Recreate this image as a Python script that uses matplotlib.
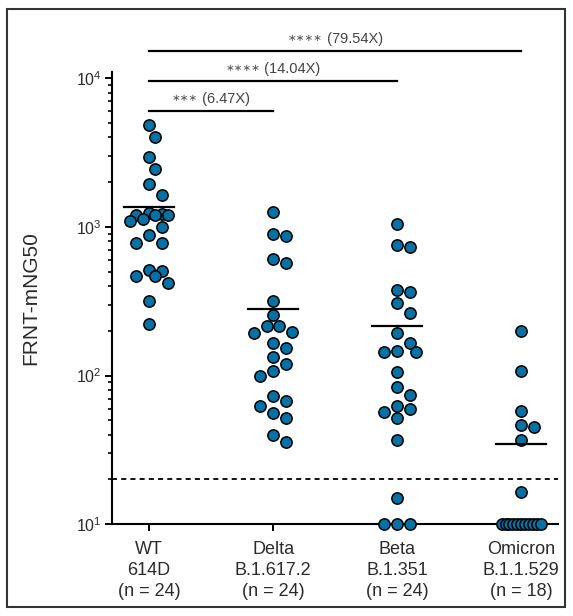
import numpy as np
import matplotlib
matplotlib.use('Agg')
import matplotlib.pyplot as plt
from matplotlib.ticker import LogLocator, NullFormatter
from matplotlib.patches import Rectangle
from matplotlib.transforms import offset_copy

plt.rcParams['font.family'] = ['Liberation Sans', 'DejaVu Sans']
plt.rcParams['mathtext.fontset'] = 'custom'
plt.rcParams['mathtext.rm'] = 'Liberation Sans'
plt.rcParams['mathtext.it'] = 'Liberation Sans:italic'

groups = ['WT\n614D\n(n = 24)', 'Delta\nB.1.617.2\n(n = 24)',
          'Beta\nB.1.351\n(n = 24)', 'Omicron\nB.1.1.529\n(n = 18)']

wt = [4840, 4050, 2940, 2450, 1930, 1650, 1250, 1220, 1210, 1200, 1195, 1130,
      1100, 994, 886, 780, 775, 513, 508, 468, 466, 421, 318, 222]
delta = [1265, 892, 869, 605, 574, 317, 257, 217, 215, 197, 194, 166,
         153, 133, 120, 107, 100, 73, 67, 62.5, 56, 52, 40, 36]
beta = [1046, 755, 729, 376, 366, 306, 265, 192, 166, 147, 144, 143,
        106, 84, 74, 62, 60, 57, 52, 37, 15, 10, 10, 10]
omicron = [200, 108, 58, 46.5, 45.3, 37, 16.4,
           10, 10, 10, 10, 10, 10, 10, 10, 10, 10, 10]
gmt = [1355, 282, 217, 34.5]
lod = 20

stars = ['\u2217\u2217\u2217', '\u2217\u2217\u2217\u2217', '\u2217\u2217\u2217\u2217']
folds = ['(6.47X)', '(14.04X)', '(79.54X)']
pairs = [(0, 1), (0, 2), (0, 3)]
bracket_y = [6000, 9570, 15300]

fill = '#0671a5'
ink = '#2b2b2b'

fig = plt.figure(figsize=(5.73, 6.16), dpi=100)
ax = fig.add_axes([0.195, 0.149, 0.779, 0.7346])
ax.set_yscale('log')
ax.set_xlim(-0.301, 3.298)
ax.set_ylim(10, 11076)


def swarm(xc, values, d=12.7, max_off=19.5):
    # beeswarm in pixel space with a width cap (overlap allowed when crowded)
    vals = np.array(values, dtype=float)
    ys = ax.transData.transform(np.column_stack([np.full(len(vals), xc), vals]))[:, 1]
    offs = np.zeros(len(vals))
    placed = []
    for v in np.unique(vals):
        row = np.where(vals == v)[0]
        if len(row) > 1:
            sp = min(d, 2 * max_off / (len(row) - 1))
            offs[row] = (np.arange(len(row)) - (len(row) - 1) / 2) * sp
            placed += list(row)
    cands = [0.0]
    k = 1
    while k * d / 2 <= max_off:
        cands += [k * d / 2, -k * d / 2]
        k += 1
    for i in np.argsort(-ys, kind='stable'):
        if i in placed:
            continue
        best, best_gap = 0.0, -1
        for c in cands:
            gap = min([np.hypot(c - offs[j], ys[i] - ys[j]) for j in placed] or [1e9])
            if gap >= d * 0.97:
                best = c
                break
            if gap > best_gap:
                best, best_gap = c, gap
        offs[i] = best
        placed.append(i)
    ppu = ax.transData.transform((1, 10))[0] - ax.transData.transform((0, 10))[0]
    return xc + offs / ppu


for i, vals in enumerate([wt, delta, beta, omicron]):
    xs = swarm(i, vals)
    ax.scatter(xs, vals, s=66, color=fill, edgecolor='black', linewidth=1.1,
               zorder=3, clip_on=False)
    ax.plot([i - 0.2, i + 0.2], [gmt[i], gmt[i]], color='black', lw=1.6, zorder=4)

ax.axhline(lod, color='black', lw=1.3, ls=(0, (2.8, 2.3)), zorder=2)

renderer = fig.canvas.get_renderer()
for (a, b), st, fd, yb in zip(pairs, stars, folds, bracket_y):
    ax.plot([a, b], [yb, yb], color='black', lw=1.6, clip_on=False)
    t1 = ax.text((a + b) / 2, yb, st, fontsize=7.5, color='#555555', ha='right',
                 va='bottom', family='DejaVu Sans', clip_on=False,
                 transform=offset_copy(ax.transData, fig, 0, 6, units='dots'))
    t2 = ax.text((a + b) / 2, yb, ' ' + fd, fontsize=10.5, color='#444444', ha='left',
                 va='bottom', clip_on=False,
                 transform=offset_copy(ax.transData, fig, 0, 4, units='dots'))
    w1 = t1.get_window_extent(renderer).width
    w2 = t2.get_window_extent(renderer).width
    shift = (w1 - w2) / 2
    t1.set_transform(offset_copy(ax.transData, fig, shift, 8, units='dots'))
    t2.set_transform(offset_copy(ax.transData, fig, shift, 5, units='dots'))

ax.set_xticks(range(len(groups)))
ax.set_xticklabels(groups, fontsize=13, color=ink, linespacing=1.3)
ax.yaxis.set_major_locator(LogLocator(base=10, numticks=10))
ax.yaxis.set_minor_locator(LogLocator(base=10, subs=np.arange(2, 10), numticks=20))
ax.yaxis.set_minor_formatter(NullFormatter())
ax.tick_params(axis='y', which='major', labelsize=11.5, labelcolor=ink,
               length=5, width=1.4, pad=2)
ax.tick_params(axis='y', which='minor', length=3, width=1.2)
ax.tick_params(axis='x', length=5, width=1.4, pad=7)
ax.set_ylabel('FRNT-mNG50', fontsize=15, color=ink)
ax.yaxis.set_label_coords(-0.161, 0.5)

for s in ['top', 'right']:
    ax.spines[s].set_visible(False)
for s in ['left', 'bottom']:
    ax.spines[s].set_linewidth(1.5)

fig.patches.append(Rectangle((0.013, 0.0146), 0.973, 0.9704, transform=fig.transFigure,
                             fill=False, edgecolor='#333333', lw=1.5))

fig.savefig('out.png', dpi=100)
